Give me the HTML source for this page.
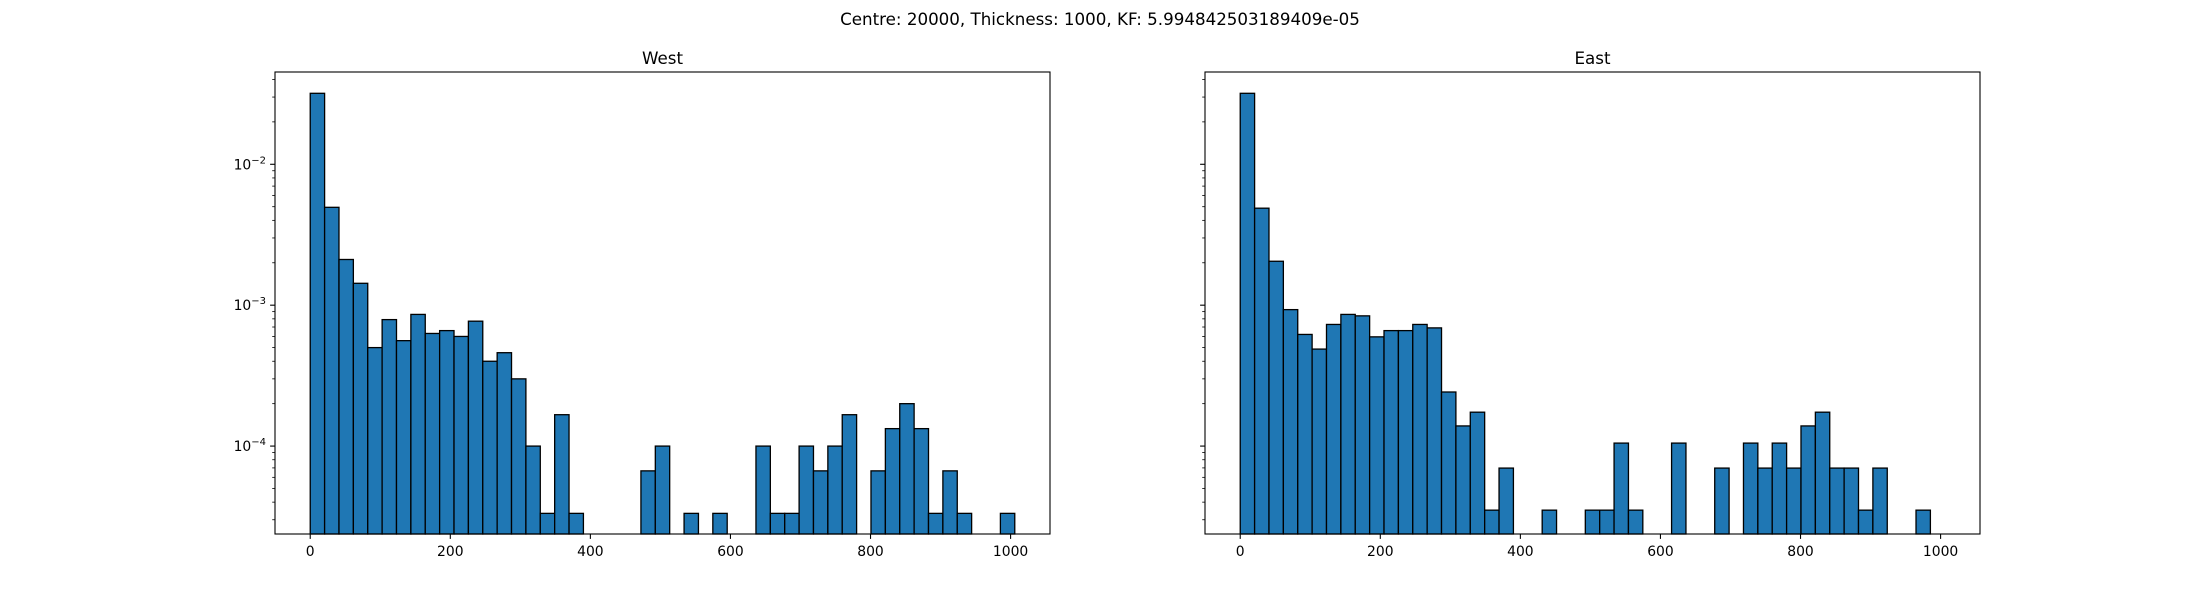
<!DOCTYPE html>
<html><head><meta charset="utf-8"><style>
html,body{margin:0;padding:0;background:#fff;}
svg{display:block;font-family:"DejaVu Sans","Liberation Sans",sans-serif;}
</style></head><body>
<svg id="fig" width="2200" height="600" viewBox="0 0 2200 600">
<text x="1100" y="25" text-anchor="middle" font-size="16.7">Centre: 20000, Thickness: 1000, KF: 5.994842503189409e-05</text>
</svg>
<script>
const binWidth = 20.53;
const westValues = [0.0319,4.95e-3,2.11e-3,1.43e-3,5.0e-4,7.9e-4,5.6e-4,8.6e-4,6.3e-4,6.6e-4,6.0e-4,7.7e-4,4.0e-4,4.6e-4,3.0e-4,
 1.0e-4,3.33e-5,1.67e-4,3.33e-5,0,0,0,0,6.67e-5,1.0e-4,0,3.33e-5,0,3.33e-5,0,0,
 1.0e-4,3.33e-5,3.33e-5,1.0e-4,6.67e-5,1.0e-4,1.67e-4,0,6.67e-5,1.33e-4,2.0e-4,1.33e-4,3.33e-5,6.67e-5,3.33e-5,0,0,3.33e-5];
const eastValues = [0.0319,4.88e-3,2.05e-3,9.3e-4,6.2e-4,4.88e-4,7.3e-4,8.6e-4,8.4e-4,5.96e-4,6.6e-4,6.6e-4,7.3e-4,6.9e-4,2.42e-4,
 1.39e-4,1.74e-4,3.51e-5,6.98e-5,0,0,3.51e-5,0,0,3.51e-5,3.51e-5,1.05e-4,3.51e-5,0,0,
 1.05e-4,0,0,6.98e-5,0,1.05e-4,6.98e-5,1.05e-4,6.98e-5,1.39e-4,1.74e-4,6.98e-5,6.98e-5,3.51e-5,6.98e-5,0,0,3.51e-5,0];
const xTicks = [0,200,400,600,800,1000];
const yMajorExps = [-4,-3,-2];
const panelTitles = ["West","East"];

const NS="http://www.w3.org/2000/svg";
const svg=document.getElementById('fig');
function mk(tag,attrs,parent){const e=document.createElementNS(NS,tag);for(const k in attrs)e.setAttribute(k,attrs[k]);(parent||svg).appendChild(e);return e;}

const axTop=72, axBottom=534;
const yLogMin=-4.624, yLogMax=-1.345;
function yScale(v){const l=Math.log10(v);return axBottom-(l-yLogMin)/(yLogMax-yLogMin)*(axBottom-axTop);}
const nb=westValues.length;
const xMax=nb*binWidth, xlo=-0.05*xMax, xhi=xMax*1.05;

function panel(left,right,values,title,showLabels,idx){
  const g=mk('g',{});
  
  
  const xs=v=>left+(v-xlo)/(xhi-xlo)*(right-left);
  values.forEach((v,i)=>{
    if(v<=0)return;
    const x0=xs(i*binWidth), x1=xs((i+1)*binWidth), y=yScale(v);
    const r=mk('rect',{x:x0,y:y,width:x1-x0,height:axBottom-y,fill:'#1f77b4',stroke:'#000','stroke-width':1.3},g);
    
    
  });
  const fr=mk('rect',{x:left,y:axTop,width:right-left,height:axBottom-axTop,fill:'none',stroke:'#000','stroke-width':1.1},g);
  
  
  const t=mk('text',{x:(left+right)/2,y:64,'text-anchor':'middle','font-size':16.7},g);
  t.textContent=title;
  
  
  xTicks.forEach(v=>{
    const x=xs(v);
    mk('line',{x1:x,x2:x,y1:axBottom,y2:axBottom+4.9,stroke:'#000','stroke-width':1.1},g);
    const tl=mk('text',{x:x,y:axBottom+22,'text-anchor':'middle','font-size':13.9},g);
    tl.textContent=v;
    
    
  });
  for(let e=-5;e<=-1;e++){
    for(let m=1;m<10;m++){
      const v=m*Math.pow(10,e);const y=yScale(v);
      if(y<axTop-0.5||y>axBottom+0.5)continue;
      const len=m===1?4.9:2.8;
      mk('line',{x1:left-len,x2:left,y1:y,y2:y,stroke:'#000','stroke-width':m===1?1.1:0.8},g);
    }
  }
  if(showLabels){
    yMajorExps.forEach(e=>{
      const y=yScale(Math.pow(10,e));
      const tl=mk('text',{x:left-9,y:y+5,'text-anchor':'end','font-size':13.9},g);
      
      
      const a=mk('tspan',{},tl);a.textContent='10';
      const b=mk('tspan',{dy:-6,'font-size':10},tl);b.textContent='\u2212'+Math.abs(e);
    });
  }
}
panel(275,1050,westValues,panelTitles[0],true,0);
panel(1205,1980,eastValues,panelTitles[1],false,1);
</script>
</body></html>
